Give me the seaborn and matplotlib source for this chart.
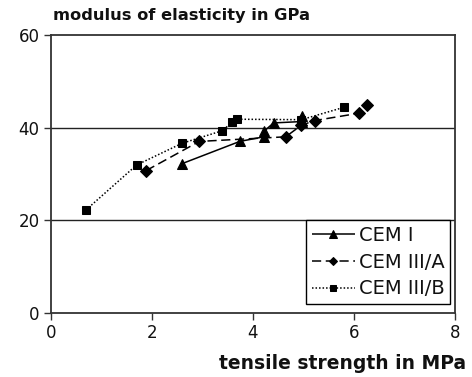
import matplotlib
matplotlib.use("Agg")
import matplotlib.pyplot as plt
import seaborn as sns
import pandas as pd

# tensile strength (MPa) and modulus of elasticity (GPa) per cement type
cem1_x = [2.60, 3.74, 4.22, 4.22, 4.41, 4.97, 4.97]
cem1_y = [32.2, 37.0, 38.0, 39.2, 41.0, 41.3, 42.4]

cem3a_x = [1.89, 2.94, 4.65, 4.96, 5.22, 6.10, 6.25]
cem3a_y = [30.7, 37.0, 38.0, 40.5, 41.5, 43.1, 44.9]

cem3b_x = [0.70, 1.70, 2.60, 3.39, 3.59, 3.69, 4.96, 5.81]
cem3b_y = [22.2, 31.9, 36.6, 39.3, 41.1, 41.8, 41.7, 44.4]

labels = ["CEM I", "CEM III/A", "CEM III/B"]

x_ticks = [0, 2, 4, 6, 8]
y_ticks = [0, 20, 40, 60]

sns.set_theme(style="white")
plt.rcParams["font.family"] = ["DejaVu Sans"]

fig = plt.figure(figsize=(4.72, 3.77), dpi=100)
ax = fig.add_axes([0.1074, 0.171, 0.8566, 0.736])

series = [
    (cem1_x, cem1_y, labels[0], "^", (0, ()), 7),
    (cem3a_x, cem3a_y, labels[1], "D", (0, (6, 3)), 6),
    (cem3b_x, cem3b_y, labels[2], "s", (0, (1, 1.3)), 5.5),
]

for xs, ys, lab, mk, ls, ms in series:
    df = pd.DataFrame({"x": xs, "y": ys})
    sns.lineplot(data=df, x="x", y="y", ax=ax, sort=False, estimator=None,
                 color="black", marker=mk, markersize=ms, linewidth=1.1,
                 linestyle=ls, markeredgecolor="black", label=lab)

ax.set_xlim(0, 8)
ax.set_ylim(0, 60)
ax.set_xticks(x_ticks)
ax.set_yticks(y_ticks)
ax.tick_params(axis="both", which="both", direction="out", length=5,
               width=1, color="#333333", labelsize=12, labelcolor="#111111",
               left=True, bottom=True, pad=3)

for v in [20, 40]:
    ax.axhline(v, color="#222222", linewidth=1.0, zorder=0)

for sp in ax.spines.values():
    sp.set_visible(True)
    sp.set_color("#333333")
    sp.set_linewidth(1.3)

ax.set_xlabel("")
ax.set_ylabel("")

fig.text(0.112, 0.947, "modulus of elasticity in GPa", fontsize=11.7,
         fontweight="bold", ha="left", va="baseline", color="#111111")
fig.text(0.987, 0.021, "tensile strength in MPa", fontsize=13.5,
         fontweight="bold", ha="right", va="baseline", color="#111111")

leg = ax.legend(loc="lower right", bbox_to_anchor=(0.988, 0.03), fontsize=14,
                frameon=True, fancybox=False, edgecolor="black",
                handlelength=2.2, handletextpad=0.2, borderpad=0.3,
                labelspacing=0.4, borderaxespad=0.0, markerscale=0.75,
                labelcolor="#111111")
leg.get_frame().set_linewidth(1.0)
leg.get_frame().set_alpha(1)

fig.savefig("out.png", dpi=100)
